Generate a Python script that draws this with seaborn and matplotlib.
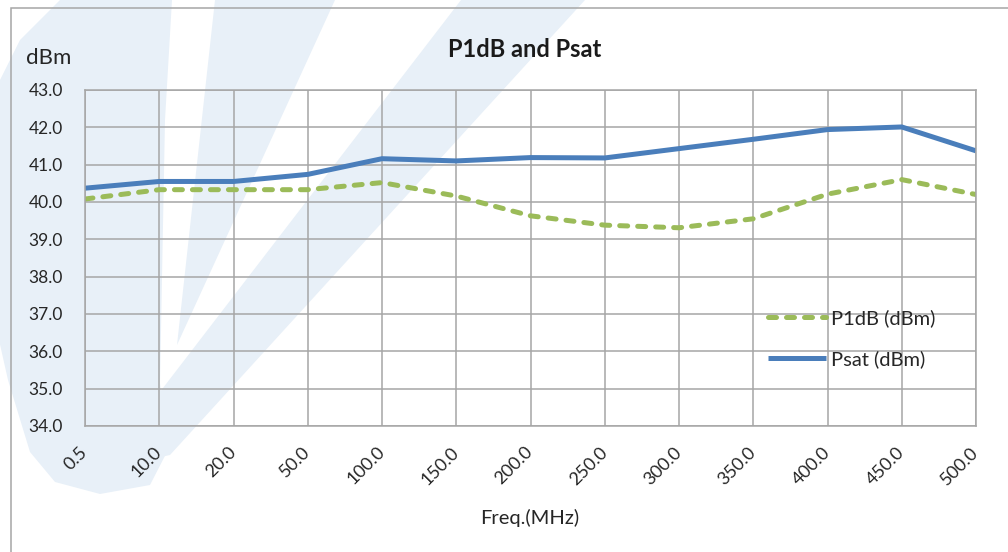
import numpy as np
import pandas as pd
import matplotlib
matplotlib.use("Agg")
import matplotlib.pyplot as plt
from matplotlib.patches import Polygon, Rectangle
import seaborn as sns

# --- data ---
freq_labels = ["0.5", "10.0", "20.0", "50.0", "100.0", "150.0", "200.0",
               "250.0", "300.0", "350.0", "400.0", "450.0", "500.0"]
p1db = [40.08, 40.33, 40.33, 40.33, 40.52, 40.16, 39.63,
        39.38, 39.31, 39.55, 40.21, 40.60, 40.20]
psat = [40.37, 40.55, 40.55, 40.74, 41.16, 41.10, 41.19,
        41.18, 41.43, 41.68, 41.94, 42.01, 41.37]
y_ticks = [34, 35, 36, 37, 38, 39, 40, 41, 42, 43]

df = pd.DataFrame({
    "freq": freq_labels * 2,
    "value": p1db + psat,
    "series": ["P1dB (dBm)"] * len(p1db) + ["Psat (dBm)"] * len(psat),
})

sns.set_style("white")
plt.rcParams["font.family"] = ["Lato", "DejaVu Sans"]

W, H = 1008, 552
fig = plt.figure(figsize=(W / 100, H / 100), dpi=100)


def px(x, y):
    return (x / W, 1 - y / H)


# pale logo watermark behind the chart
wm = "#e8f0f8"
shapes = [
    [(60, 0), (172, 0), (165, 120), (160, 383), (168, 450), (150, 485), (100, 494),
     (55, 482), (30, 452), (8, 380), (-10, 300), (-10, 100), (20, 40)],
    [(215, 0), (335, 0), (177, 345)],
    [(461, 0), (585, 0), (170, 455), (100, 470)],
]
for s in shapes:
    fig.add_artist(Polygon([px(x, y) for x, y in s], closed=True, facecolor=wm,
                           edgecolor="none", transform=fig.transFigure, zorder=0))

# outer chart frame
fig.add_artist(Rectangle(px(11, 600), 1.2, 592 / H, transform=fig.transFigure,
                         fill=False, edgecolor="#a6a6a6", linewidth=1.1, zorder=1))

ax = fig.add_axes([85 / W, 1 - 426 / H, (976 - 85) / W, (426 - 90) / H])
ax.set_facecolor("none")

sns.lineplot(data=df, x="freq", y="value", hue="series", style="series",
             palette={"P1dB (dBm)": "#9bbb59", "Psat (dBm)": "#4a7ebb"},
             dashes={"P1dB (dBm)": (1.6, 2.0), "Psat (dBm)": ""},
             linewidth=3.6, sort=False, ax=ax)
for ln in ax.get_lines():
    ln.set_dash_capstyle("round")
    ln.set_solid_capstyle("butt")

ax.set_xlim(0, len(freq_labels) - 1)
ax.set_ylim(34, 43)
ax.set_yticks(y_ticks)
ax.set_yticklabels([f"{v:.1f}" for v in y_ticks])
ax.set_xticks(range(len(freq_labels)))
ax.set_xticklabels(freq_labels, rotation=45, ha="right", va="center",
                   rotation_mode="anchor")
ax.tick_params(axis="y", length=0, pad=16, labelsize=12.5, labelcolor="#262626")
ax.tick_params(axis="x", length=0, pad=17, labelsize=13, labelcolor="#262626")
ax.grid(True, color="#a6a6a6", linewidth=1.1)
ax.set_axisbelow(True)
for sp in ax.spines.values():
    sp.set_visible(True)
    sp.set_color("#a6a6a6")
    sp.set_linewidth(1.1)
ax.set_xlabel("")
ax.set_ylabel("")

leg = ax.legend(loc="upper left", bbox_to_anchor=px(768, 309),
                bbox_transform=fig.transFigure, frameon=False, fontsize=14.5,
                handlelength=2.9, handletextpad=0.25, labelspacing=1.15,
                borderpad=0, borderaxespad=0)
for t in leg.get_texts():
    t.set_color("#262626")
for ln in leg.get_lines():
    ln.set_dash_capstyle("round")

fig.text(*px(525, 49), "P1dB and Psat", ha="center", va="center",
         fontsize=17, fontweight="bold", color="#1a1a1a")
fig.text(*px(26, 58), "dBm", ha="left", va="center", fontsize=16, color="#262626")
fig.text(*px(530, 518), "Freq.(MHz)", ha="center", va="center", fontsize=14.5,
         color="#262626")

fig.savefig("out.png", dpi=100)
